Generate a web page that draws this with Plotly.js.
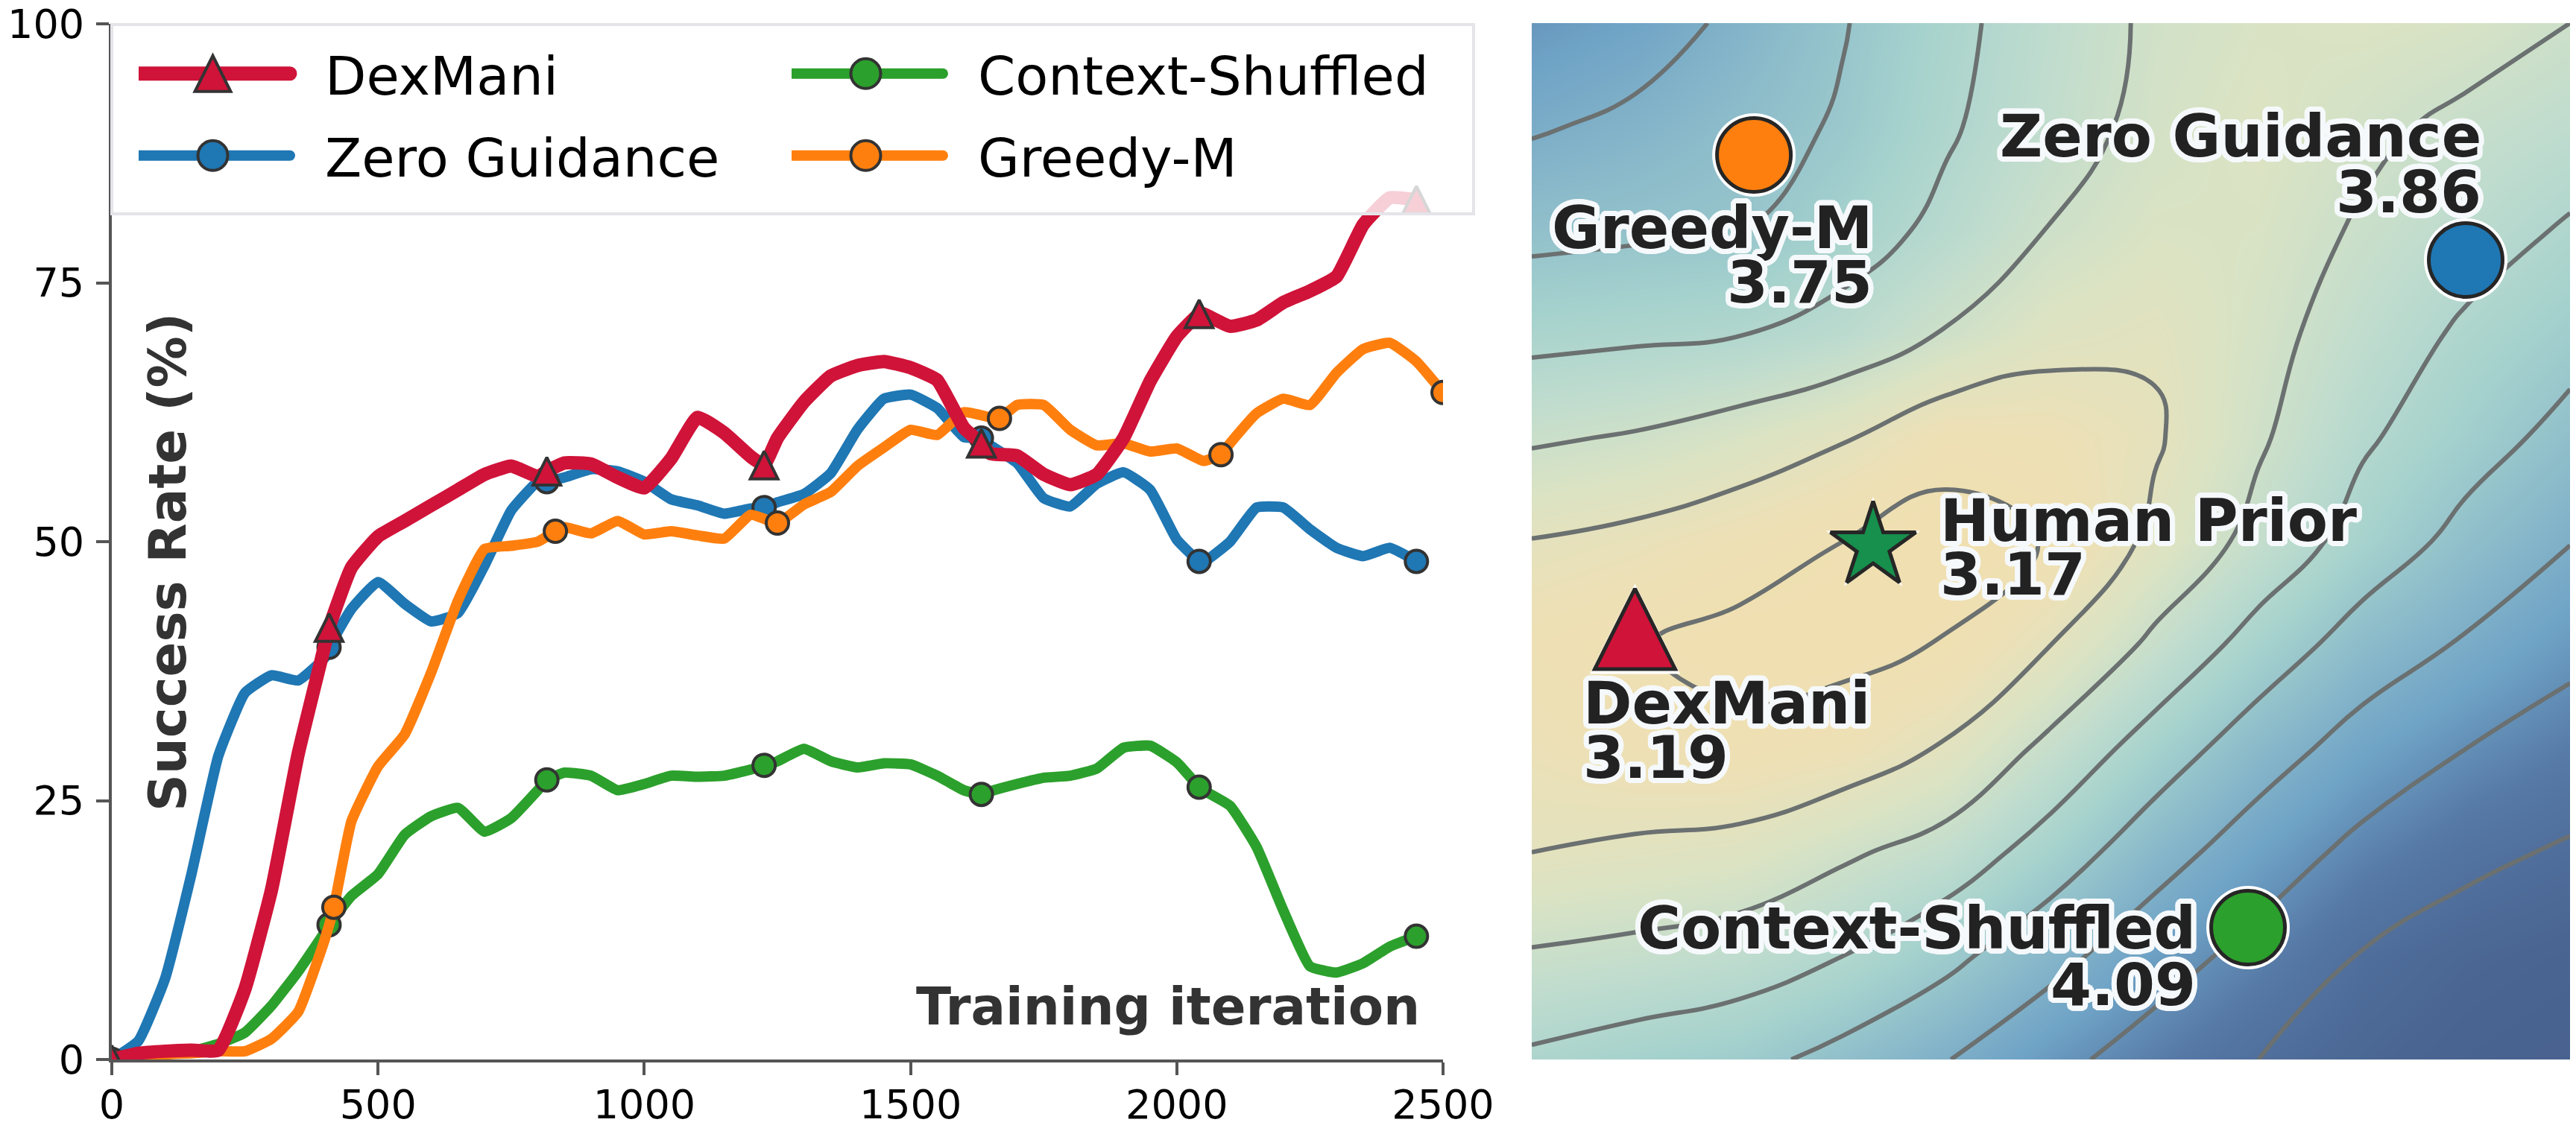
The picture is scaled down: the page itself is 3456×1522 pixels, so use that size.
<!DOCTYPE html>
<html><head><meta charset="utf-8">
<script src="https://cdn.plot.ly/plotly-3.0.1.min.js"></script>
<style>html,body{margin:0;padding:0;background:#fff;}#chart{width:3456px;height:1522px;}</style>
</head><body><div id="chart"></div>
<script>
// ---------------- data: left panel ----------------
const iterations = [0,50,100,150,200,250,300,350,400,450,500,550,600,650,700,750,800,850,900,950,1000,1050,1100,1150,1200,1250,1300,1350,1400,1450,1500,1550,1600,1650,1700,1750,1800,1850,1900,1950,2000,2050,2100,2150,2200,2250,2300,2350,2400,2450];
const iterationsGreedy = [0,50,100,150,200,250,300,350,400,450,500,550,600,650,700,750,800,850,900,950,1000,1050,1100,1150,1200,1250,1300,1350,1400,1450,1500,1550,1600,1650,1700,1750,1800,1850,1900,1950,2000,2050,2100,2150,2200,2250,2300,2350,2400,2450,2500];
const dexmaniRate = [0,0.6,0.8,0.9,0.9,6.8,16.4,29.5,40.0,47.5,50.5,52.0,53.5,55.0,56.5,57.3,56.3,57.6,57.5,56.2,55.2,58.0,62.0,60.5,58.2,60.0,63.5,66.0,67.0,67.4,66.8,65.6,61.0,58.5,58.3,56.5,55.5,56.5,60.0,65.5,69.8,72.0,70.8,71.4,73.1,74.2,75.6,80.6,83.2,83.0];
const zeroGuidanceRate = [0,1.8,7.8,18.0,29.3,35.4,37.1,36.6,38.8,43.5,46.1,44.0,42.3,43.1,47.7,53.0,55.8,56.2,57.0,56.8,55.8,54.1,53.5,52.7,53.2,53.8,54.6,56.6,60.8,63.8,64.2,62.9,60.1,59.3,57.6,54.2,53.4,55.6,56.7,55.0,50.2,48.0,50.0,53.3,53.3,51.2,49.4,48.6,49.4,48.1];
const contextShuffledRate = [0,0.3,0.5,0.8,1.5,2.6,5.2,8.5,12.3,15.8,17.9,21.7,23.5,24.3,22.0,23.3,26.0,27.7,27.4,26.0,26.6,27.4,27.3,27.4,28.0,28.8,30.0,28.8,28.2,28.6,28.5,27.4,26.0,25.9,26.6,27.2,27.4,28.1,30.1,30.3,28.7,26.0,24.5,20.5,14.4,9.0,8.4,9.3,10.9,11.9];
const greedyRate = [0,0.3,0.5,0.6,0.8,0.8,2.0,4.6,11.6,23.0,28.3,31.4,37.4,44.3,49.3,49.6,50.0,51.4,50.8,52.0,50.7,51.0,50.6,50.3,52.6,51.8,53.6,54.8,57.3,59.1,60.8,60.3,62.5,62.0,63.2,63.2,60.8,59.3,59.5,58.7,59.0,57.8,59.5,62.4,63.8,63.2,66.3,68.6,69.2,67.4,64.4];
const markerIterations = [0,408,817,1225,1633,2042,2450];
const markerIterationsGreedy = [0,417,833,1250,1667,2083,2500];
const dexmaniMarkers = [0,41.7,56.8,57.4,59.5,72.0,83.0];
const zeroGuidanceMarkers = [0,39.8,55.8,53.3,60.0,48.1,48.1];
const contextShuffledMarkers = [0,13.0,27.0,28.4,25.6,26.3,11.9];
const greedyMarkers = [0,14.7,51.0,51.8,61.9,58.4,64.4];
const xTicks = [0,500,1000,1500,2000,2500];
const yTicks = [0,25,50,75,100];

// ---------------- data: right panel (landscape) ----------------
const gridU = [0,0.1,0.2,0.3,0.4,0.5,0.6,0.7,0.8,0.9,1.0];
const gridV = [0,0.1,0.2,0.3,0.4,0.5,0.6,0.7,0.8,0.9,1.0];
const landscapeZ = [
  [4.15,4.45,4.70,5.30,5.97,6.75,7.40,8.00,8.40,8.70,8.90],
  [3.09,3.25,3.50,4.00,4.75,5.70,6.60,7.30,8.05,8.40,8.60],
  [2.00,2.15,2.30,2.85,3.40,4.45,5.60,6.50,7.25,7.80,8.10],
  [1.60,1.30,1.20,1.45,2.10,3.25,4.45,5.55,6.40,7.00,7.46],
  [1.30,1.05,0.75,0.75,1.05,2.00,3.20,4.40,5.45,6.10,6.73],
  [1.97,1.75,1.40,1.00,0.65,1.05,2.20,3.30,4.40,5.30,5.97],
  [3.12,2.92,2.55,2.07,1.35,1.45,1.90,2.88,3.87,4.60,5.29],
  [4.26,4.15,4.03,3.65,2.93,2.30,2.10,2.70,3.45,4.15,4.67],
  [5.25,5.14,5.03,4.45,3.76,2.96,2.50,2.55,3.10,3.60,4.10],
  [6.10,5.79,5.37,4.90,4.11,3.38,2.75,2.40,2.80,3.20,3.50],
  [6.80,6.45,5.80,5.05,4.25,3.50,2.85,2.55,2.45,2.60,3.00]
];
const methodNames = ['Greedy-M','Zero Guidance','Human Prior','DexMani','Context-Shuffled'];
const methodU = [0.214,0.8995,0.3288,0.0994,0.6899];
const methodV = [0.8728,0.7714,0.4953,0.4155,0.1273];
const methodScore = [3.75,3.86,3.17,3.19,4.09];

// ---------------- styles ----------------
const W = 3456, H = 1522;
const px = x => x / W, py = y => 1 - y / H;
const FONT = 'DejaVu Sans';
const RED = '#d01339', BLUE = '#1f77b4', GREEN = '#2ca02c', ORANGE = '#ff7f0e', STAR = '#178f4d';
const EDGE = '#333333';

function withMarkers(xs, ys, mx, my) {
  const pts = xs.map((x, i) => ({x: x, y: ys[i], m: false}));
  mx.forEach((x, i) => {
    const j = pts.findIndex(p => p.x === x);
    if (j >= 0) { pts[j].m = true; pts[j].y = my[i]; }
    else pts.push({x: x, y: my[i], m: true});
  });
  pts.sort((a, b) => a.x - b.x);
  return pts;
}
function lineTrace(name, pts, color, lw, symbol, msize, legend) {
  return {
    type: 'scatter', mode: 'lines+markers', name: name, legend: legend,
    x: pts.map(p => p.x), y: pts.map(p => p.y), xaxis: 'x', yaxis: 'y',
    line: {color: color, width: lw, shape: 'spline', smoothing: 0.4},
    marker: {symbol: symbol, color: color, opacity: 1, size: pts.map(p => p.m ? msize : 0),
             line: {color: EDGE, width: pts.map(p => p.m ? 4 : 0)}},
    hoverinfo: 'skip', cliponaxis: true
  };
}
const traces = [];
traces.push({type: 'heatmap', x: gridU, y: gridV, z: landscapeZ, xaxis: 'x2', yaxis: 'y2',
  zsmooth: 'best', zmin: 0.5, zmax: 9, showscale: false, hoverinfo: 'skip', showlegend: false,
  colorscale: [[0,'#f1dfae'],[0.1176,'#ede0b6'],[0.235,'#dae3c4'],[0.353,'#bfdcce'],[0.471,'#a4d1cd'],
               [0.588,'#8bbaca'],[0.706,'#6fa3c6'],[0.824,'#5679a6'],[0.941,'#4a6592'],[1,'#48618f']]});
traces.push({type: 'contour', x: gridU, y: gridV, z: landscapeZ, xaxis: 'x2', yaxis: 'y2',
  contours: {start: 1, end: 8, size: 1, coloring: 'none'}, line: {color: '#6b7070', width: 6, smoothing: 1.3},
  showscale: false, hoverinfo: 'skip', showlegend: false});

traces.push(lineTrace('Zero Guidance', withMarkers(iterations, zeroGuidanceRate, markerIterations, zeroGuidanceMarkers), BLUE, 14, 'circle', 30, 'legend2'));
traces.push(lineTrace('Context-Shuffled', withMarkers(iterations, contextShuffledRate, markerIterations, contextShuffledMarkers), GREEN, 14, 'circle', 30, 'legend3'));
traces.push(lineTrace('Greedy-M', withMarkers(iterationsGreedy, greedyRate, markerIterationsGreedy, greedyMarkers), ORANGE, 14, 'circle', 30, 'legend4'));
traces.push(lineTrace('DexMani', withMarkers(iterations, dexmaniRate, markerIterations, dexmaniMarkers), RED, 18, 'triangle-up', 37, 'legend'));

const methodStyle = {
  'Greedy-M':        {symbol: 'circle', color: ORANGE, size: 99, halo: 112, xanchor: 'right', dx: 160, dy: [98, 171]},
  'Zero Guidance':   {symbol: 'circle', color: BLUE, size: 99, halo: 112, xanchor: 'right', dx: 22, dy: [-166, -91]},
  'Human Prior':     {symbol: 'star', color: STAR, size: 86, halo: 95, xanchor: 'left', dx: 89, dy: [-34, 38]},
  'DexMani':         {symbol: 'triangle-up', color: RED, size: 108, halo: 121, xanchor: 'left', dx: -70, dy: [100, 173]},
  'Context-Shuffled':{symbol: 'circle', color: GREEN, size: 99, halo: 112, xanchor: 'right', dx: -69, dy: [1, 77]}
};
traces.push({type: 'scatter', mode: 'markers', x: methodU, y: methodV, xaxis: 'x2', yaxis: 'y2', showlegend: false, hoverinfo: 'skip', cliponaxis: false,
  marker: {symbol: methodNames.map(n => methodStyle[n].symbol), size: methodNames.map(n => methodStyle[n].halo), color: '#ffffff', opacity: 1, line: {width: 0}}});
traces.push({type: 'scatter', mode: 'markers', x: methodU, y: methodV, xaxis: 'x2', yaxis: 'y2', showlegend: false, hoverinfo: 'skip', cliponaxis: false,
  marker: {symbol: methodNames.map(n => methodStyle[n].symbol), size: methodNames.map(n => methodStyle[n].size), opacity: 1,
           color: methodNames.map(n => methodStyle[n].color), line: {color: '#262626', width: 5}}});

function outline(r, color) {
  const s = [];
  for (let k = 0; k < 24; k++) { const a = k * Math.PI / 12; s.push((r * Math.cos(a)).toFixed(1) + 'px ' + (r * Math.sin(a)).toFixed(1) + 'px 0 ' + color); }
  for (let k = 0; k < 12; k++) { const a = k * Math.PI / 6; s.push((r / 2 * Math.cos(a)).toFixed(1) + 'px ' + (r / 2 * Math.sin(a)).toFixed(1) + 'px 0 ' + color); }
  return s.join(', ');
}
const labelFont = {family: FONT, size: 79, color: '#222222', weight: 700, shadow: outline(7, 'rgba(246,249,251,1)')};
const annotations = [];
methodNames.forEach((n, i) => {
  const st = methodStyle[n];
  [n, methodScore[i].toFixed(2)].forEach((t, k) => {
    annotations.push({xref: 'x2', yref: 'y2', x: methodU[i], y: methodV[i], text: t, showarrow: false,
      xanchor: st.xanchor, yanchor: 'middle', xshift: st.dx, yshift: -st.dy[k], font: labelFont, borderpad: 0});
  });
});
annotations.push({xref: 'paper', yref: 'paper', x: px(225), y: py(755), text: 'Success Rate (%)', textangle: -90, showarrow: false,
  xanchor: 'center', yanchor: 'middle', font: {family: FONT, size: 69, color: '#333333', weight: 700}, borderpad: 0});
annotations.push({xref: 'paper', yref: 'paper', x: px(1906), y: py(1351), text: 'Training iteration', showarrow: false,
  xanchor: 'right', yanchor: 'middle', font: {family: FONT, size: 69, color: '#333333', weight: 700}, borderpad: 0});

function legendAt(xPx, yPx) {
  return {x: px(xPx), y: py(yPx), xanchor: 'left', yanchor: 'middle', orientation: 'v', bgcolor: 'rgba(0,0,0,0)',
          borderwidth: 0, itemwidth: 240, font: {family: FONT, size: 72, color: '#000000'}};
}
const axisCommon = {ticks: 'outside', ticklen: 17, tickwidth: 4, tickcolor: '#555555', showline: true, linecolor: '#555555',
  linewidth: 4, showgrid: false, zeroline: false, tickfont: {family: FONT, size: 54, color: '#000000'}, fixedrange: true};
const layout = {
  width: W, height: H, margin: {l: 0, r: 0, t: 0, b: 0}, paper_bgcolor: '#ffffff', plot_bgcolor: 'rgba(0,0,0,0)',
  font: {family: FONT, color: '#000000'}, showlegend: true,
  xaxis: Object.assign({}, axisCommon, {domain: [px(150), px(1936)], range: [0, 2500], tickvals: xTicks, anchor: 'y', ticklabelstandoff: -7}),
  yaxis: Object.assign({}, axisCommon, {domain: [py(1422), py(32)], range: [0, 100], tickvals: yTicks, anchor: 'x', ticklabelstandoff: 5}),
  xaxis2: {domain: [px(2055), px(3448)], range: [0, 1], visible: false, anchor: 'y2', fixedrange: true},
  yaxis2: {domain: [py(1422), py(31)], range: [0, 1], visible: false, anchor: 'x2', fixedrange: true},
  legend: legendAt(186, 99), legend2: legendAt(186, 209), legend3: legendAt(1062, 99), legend4: legendAt(1062, 209),
  shapes: [{type: 'rect', xref: 'paper', yref: 'paper', x0: px(150), x1: px(1977), y0: py(287), y1: py(33),
            fillcolor: 'rgba(255,255,255,0.8)', line: {color: '#e4e4e9', width: 4}, layer: 'above'}],
  annotations: annotations
};

const legendSymbols = {
  'DexMani': {lw: 19, shape: 'tri', a: 24},
  'Zero Guidance': {lw: 14, shape: 'circ', a: 20},
  'Context-Shuffled': {lw: 14, shape: 'circ', a: 20},
  'Greedy-M': {lw: 14, shape: 'circ', a: 20}
};
function triPath(a) { return 'M-' + a + ',' + a + 'H' + a + 'L0,-' + a + 'Z'; }
function circPath(r) { return 'M' + r + ',0A' + r + ',' + r + ' 0 1,1 0,-' + r + 'A' + r + ',' + r + ' 0 0,1 ' + r + ',0Z'; }
function tweak(gd) {
  gd.querySelectorAll('.scatterlayer path.point').forEach(p => {
    const m = (p.getAttribute('d') || '').match(/^M-([\d.]+),([\d.]+)H([\d.]+)L0,-([\d.]+)Z$/);
    if (m) p.setAttribute('d', triPath(parseFloat(m[4])));
  });
  gd.querySelectorAll('.infolayer g.traces').forEach(tr => {
    const txt = tr.querySelector('text');
    if (!txt) return;
    const st = legendSymbols[txt.textContent];
    if (!st) return;
    const tx = parseFloat(txt.getAttribute('x')) || 0;
    const len = 207, gap = 47;
    const line = tr.querySelector('.legendlines path');
    if (line) { line.setAttribute('d', 'M' + (tx - gap - len) + ',0h' + len); line.style.strokeWidth = st.lw + 'px'; line.style.strokeLinecap = 'round'; }
    tr.querySelectorAll('.legendpoints path').forEach(pt => { pt.setAttribute('transform', 'translate(' + (tx - gap - len / 2) + ',0)');
      pt.setAttribute('d', st.shape === 'tri' ? triPath(st.a) : circPath(st.a)); pt.style.strokeWidth = '4px'; pt.style.opacity = 1; });
  });
}
const gd = document.getElementById('chart');
Plotly.newPlot(gd, traces, layout, {staticPlot: true}).then(() => { tweak(gd); gd.on('plotly_afterplot', () => tweak(gd)); });
</script></body></html>
